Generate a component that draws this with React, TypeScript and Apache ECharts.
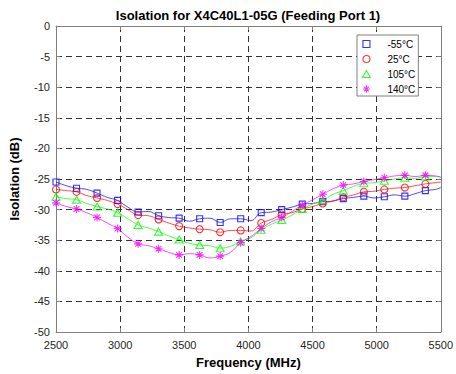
import { useEffect, useRef } from "react";
import * as echarts from "echarts";

const titleText = "Isolation for X4C40L1-05G (Feeding Port 1)";
const xName = "Frequency (MHz)";
const yName = "Isolation (dB)";

const freqs = [
  2500, 2580, 2660, 2740, 2820, 2900, 2980, 3060, 3140, 3220, 3300, 3380, 3460,
  3540, 3620, 3700, 3780, 3860, 3940, 4020, 4100, 4180, 4260, 4340, 4420, 4500,
  4580, 4660, 4740, 4820, 4900, 4980, 5060, 5140, 5220, 5300, 5380, 5460, 5500,
];

const markerFreqs = [
  2500, 2660, 2820, 2980, 3140, 3300, 3460, 3620, 3780, 3940, 4100, 4260, 4420,
  4580, 4740, 4900, 5060, 5220, 5380,
];

const seriesNames = ["-55°C", "25°C", "105°C", "140°C"];

const minus55 = [
  -25.5, -26.1, -26.5, -26.7, -27.3, -28.0, -28.5, -29.6, -30.4, -30.3, -31.0,
  -31.3, -31.4, -31.9, -31.5, -31.4, -32.1, -31.5, -31.5, -31.8, -30.5, -30.4,
  -30.0, -29.6, -29.1, -29.0, -28.7, -28.6, -28.2, -28.0, -27.8, -28.1, -27.9,
  -27.6, -27.8, -27.4, -26.9, -26.7, -26.4,
];

const plus25 = [
  -26.7, -26.9, -27.1, -27.7, -28.1, -28.5, -29.1, -30.0, -30.9, -31.0, -31.6,
  -32.2, -32.7, -33.0, -33.2, -33.3, -33.7, -33.4, -33.4, -33.5, -32.2, -31.6,
  -30.8, -30.5, -29.9, -29.5, -29.0, -28.6, -28.0, -27.6, -27.1, -27.0, -26.7,
  -26.5, -26.4, -26.1, -25.8, -25.6, -25.5,
];

const plus105 = [
  -27.9, -28.2, -28.4, -29.0, -29.5, -29.9, -30.5, -31.5, -32.5, -33.0, -33.6,
  -34.3, -34.9, -35.5, -35.8, -35.9, -36.3, -36.0, -35.2, -34.6, -33.3, -32.4,
  -31.7, -30.9, -29.9, -29.1, -28.5, -27.5, -26.9, -26.2, -25.7, -25.6, -25.3,
  -25.0, -24.8, -24.9, -24.6, -24.6, -24.7,
];

const plus140 = [
  -28.9, -29.5, -29.9, -30.5, -31.3, -32.2, -33.1, -34.5, -35.6, -35.9, -36.4,
  -37.0, -37.4, -37.2, -37.4, -37.9, -37.6, -37.0, -35.4, -34.4, -33.1, -32.0,
  -31.3, -30.3, -29.3, -28.4, -27.5, -26.6, -26.0, -25.8, -25.4, -25.1, -24.8,
  -24.5, -24.4, -24.6, -24.4, -24.5, -24.7,
];

const xTicks = { min: 2500, max: 5500, interval: 500 };
const yTicks = { min: -50, max: 0, interval: 5 };

const seriesValues = [minus55, plus25, plus105, plus140];
const colors = ["#0000ff", "#ff0000", "#00ff00", "#ff00ff"];

const ASTERISK =
  "path://M5,0L5,10M0,5L10,5M1.46,1.46L8.54,8.54M1.46,8.54L8.54,1.46";
const legendIcons = [
  "path://M0,0L10,0L10,10L0,10Z",
  "path://M5,0A5,5,0,1,1,5,10A5,5,0,1,1,5,0Z",
  "path://M5,0L10,9L0,9Z",
  ASTERISK,
];
const markerSymbols = ["rect", "circle", "triangle", ASTERISK];
const markerSizes: any[] = [6, 7, [8, 7], 8];

const FONT = "'Liberation Sans', Arial, Helvetica, sans-serif";

export default function App() {
  const ref = useRef<HTMLDivElement>(null);

  useEffect(() => {
    document.body.style.margin = "0";
    if (!ref.current) return;
    const chart = echarts.init(ref.current, undefined, { renderer: "svg" });

    const series: any[] = [];
    seriesNames.forEach((name, i) => {
      const pts = freqs.map((f, j) => [f, seriesValues[i][j]]);
      const marks = pts.filter((p) => markerFreqs.includes(p[0] as number));
      series.push({
        name,
        type: "scatter",
        data: marks,
        symbol: markerSymbols[i],
        symbolSize: markerSizes[i],
        itemStyle: {
          color: "rgba(0,0,0,0)",
          borderColor: colors[i],
          borderWidth: 1.1,
        },
        z: 4,
        silent: true,
      });
    });
    seriesNames.forEach((name, i) => {
      const pts = freqs.map((f, j) => [f, seriesValues[i][j]]);
      series.push({
        name,
        type: "line",
        data: pts,
        showSymbol: false,
        smooth: 0.4,
        lineStyle: { color: colors[i], width: 1, opacity: 0.7 },
        z: 3,
        silent: true,
      });
    });

    const axisColor = "#808080";
    const gridColor = "#333333";
    const labelStyle = { fontSize: 11, color: "#262626", fontFamily: FONT };
    const nameStyle = {
      fontSize: 13,
      fontWeight: "bold",
      color: "#000",
      fontFamily: FONT,
    };
    const plain = (v: number) => String(v);

    chart.setOption({
      animation: false,
      grid: { left: 54, right: 14, top: 26, bottom: 42, containLabel: false },
      graphic: [
        {
          type: "text",
          x: 248,
          y: 15,
          style: {
            text: titleText,
            fontSize: 13,
            fontWeight: "bold",
            fontFamily: FONT,
            fill: "#000",
            textAlign: "center",
            textVerticalAlign: "middle",
            align: "center",
            verticalAlign: "middle",
          },
        },
      ],
      legend: {
        orient: "vertical",
        left: 357,
        top: 35,
        padding: [2, 3, 0, 5],
        itemWidth: 32,
        itemHeight: 7,
        itemGap: 1,
        backgroundColor: "#ffffff",
        borderColor: "#808080",
        borderWidth: 1,
        borderRadius: 0,
        selectedMode: false,
        textStyle: {
          fontSize: 10,
          lineHeight: 14,
          color: "#000",
          fontFamily: FONT,
        },
        data: seriesNames.map((name, i) => ({
          name,
          icon: legendIcons[i],
          itemStyle: {
            color: "rgba(0,0,0,0)",
            borderColor: colors[i],
            borderWidth: 1.1,
          },
        })),
      },
      xAxis: [
        {
          type: "value",
          position: "bottom",
          ...xTicks,
          name: xName,
          nameLocation: "middle",
          nameGap: 24,
          nameTextStyle: nameStyle,
          axisLine: { show: true, onZero: false, lineStyle: { color: axisColor } },
          axisTick: { show: true, inside: true, length: 4, lineStyle: { color: axisColor } },
          axisLabel: { ...labelStyle, margin: 7, formatter: plain },
          splitLine: {
            show: true,
            lineStyle: { color: gridColor, type: [6, 4], width: 1 },
          },
        },
        {
          type: "value",
          position: "top",
          ...xTicks,
          axisLine: { show: true, onZero: false, lineStyle: { color: axisColor } },
          axisTick: { show: true, inside: true, length: 4, lineStyle: { color: axisColor } },
          axisLabel: { show: false },
          splitLine: { show: false },
        },
      ],
      yAxis: [
        {
          type: "value",
          position: "left",
          ...yTicks,
          name: yName,
          nameLocation: "middle",
          nameGap: 35,
          nameRotate: 90,
          nameTextStyle: nameStyle,
          axisLine: { show: true, onZero: false, lineStyle: { color: axisColor } },
          axisTick: { show: true, inside: true, length: 4, lineStyle: { color: axisColor } },
          axisLabel: { ...labelStyle, margin: 6, formatter: plain },
          splitLine: {
            show: true,
            lineStyle: { color: gridColor, type: [6, 4], width: 1 },
          },
        },
        {
          type: "value",
          position: "right",
          ...yTicks,
          axisLine: { show: true, onZero: false, lineStyle: { color: axisColor } },
          axisTick: { show: true, inside: true, length: 4, lineStyle: { color: axisColor } },
          axisLabel: { show: false },
          splitLine: { show: false },
        },
      ],
      series,
    });

    return () => {
      chart.dispose();
    };
  }, []);

  return <div ref={ref} style={{ width: 456, height: 374 }} />;
}
